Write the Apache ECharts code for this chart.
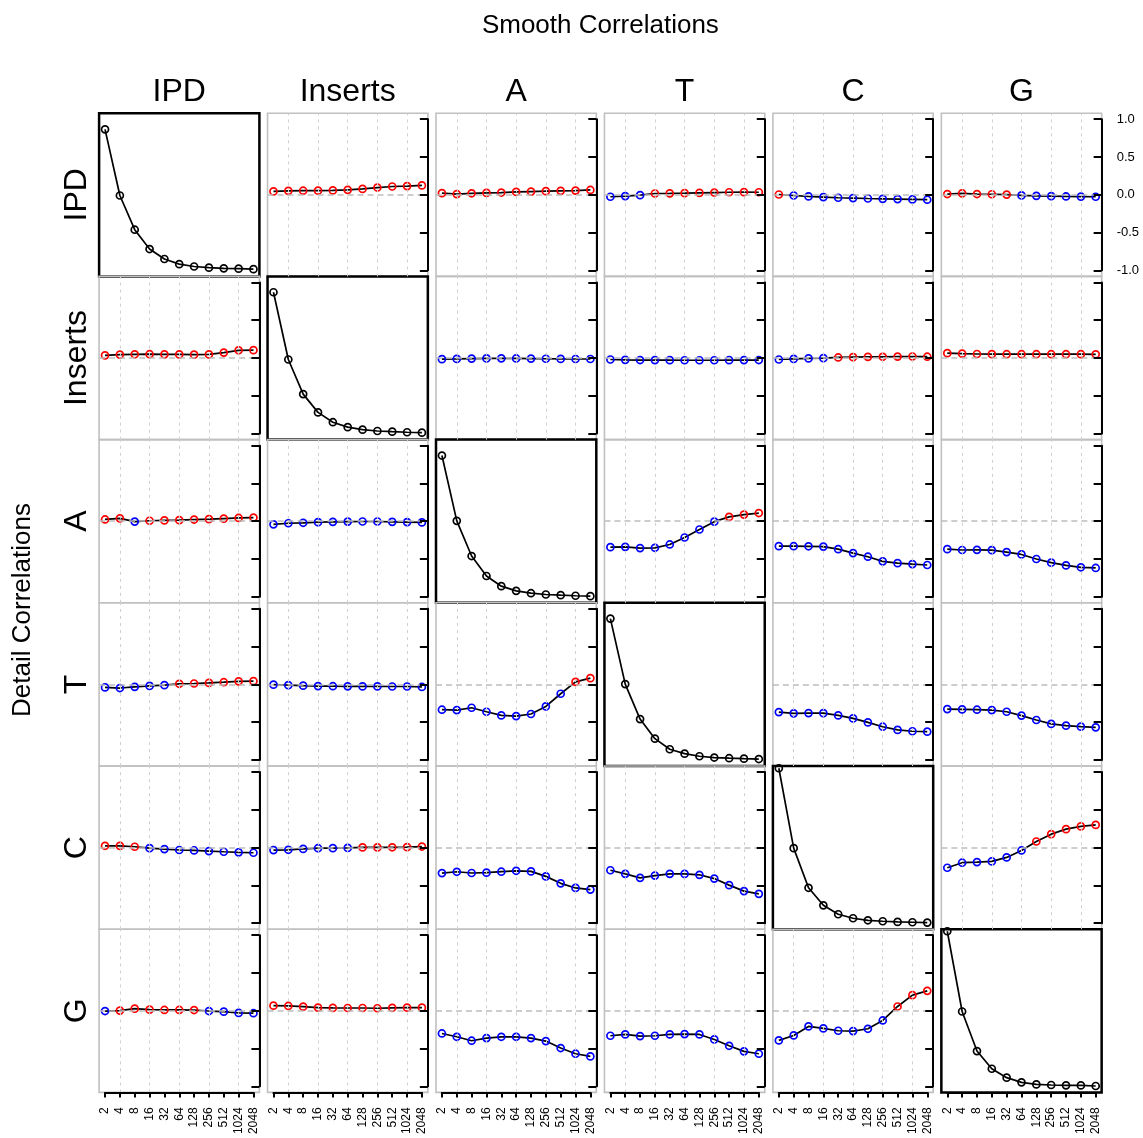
<!DOCTYPE html>
<html>
<head>
<meta charset="utf-8">
<script src="https://cdn.jsdelivr.net/npm/echarts@6/dist/echarts.min.js"></script>
<style>
html,body{margin:0;padding:0;background:#fff;}
#chart{width:1143px;height:1138px;}
</style>
</head>
<body>
<div id="chart"></div>
<script>
// ---------- data ----------
const variables = ['IPD', 'Inserts', 'A', 'T', 'C', 'G'];
const lags = [2, 4, 8, 16, 32, 64, 128, 256, 512, 1024, 2048];
const gridLags = [4, 16, 64, 256, 1024];
const yTicks = [-1, -0.5, 0, 0.5, 1];
const titleText = 'Smooth Correlations';
const yTitleText = 'Detail Correlations';

// row = detail variable, column = smooth variable
const IPD_IPD     = [0.866, -0.009, -0.462, -0.718, -0.850, -0.918, -0.949, -0.964, -0.973, -0.978, -0.984];
const IPD_Inserts = [0.045, 0.052, 0.054, 0.055, 0.058, 0.066, 0.078, 0.096, 0.110, 0.115, 0.124];
const IPD_A       = [0.022, 0.009, 0.020, 0.025, 0.030, 0.038, 0.043, 0.048, 0.052, 0.056, 0.064];
const IPD_T       = [-0.026, -0.017, -0.005, 0.017, 0.019, 0.022, 0.026, 0.030, 0.034, 0.035, 0.034];
const IPD_C       = [0.004, -0.009, -0.021, -0.030, -0.039, -0.044, -0.049, -0.053, -0.057, -0.061, -0.065];
const IPD_G       = [0.010, 0.018, 0.010, 0.007, 0.003, -0.008, -0.014, -0.018, -0.022, -0.024, -0.026];
const Inserts_IPD     = [0.035, 0.045, 0.049, 0.050, 0.048, 0.047, 0.044, 0.047, 0.072, 0.102, 0.104];
const Inserts_Inserts = [0.870, -0.020, -0.478, -0.720, -0.850, -0.915, -0.948, -0.966, -0.975, -0.983, -0.988];
const Inserts_A       = [-0.015, -0.012, -0.008, -0.005, -0.004, -0.006, -0.008, -0.010, -0.012, -0.013, -0.013];
const Inserts_T       = [-0.020, -0.024, -0.027, -0.028, -0.029, -0.030, -0.030, -0.030, -0.029, -0.028, -0.027];
const Inserts_C       = [-0.020, -0.012, -0.005, -0.002, 0.007, 0.011, 0.015, 0.016, 0.019, 0.020, 0.017];
const Inserts_G       = [0.064, 0.057, 0.053, 0.051, 0.050, 0.050, 0.050, 0.050, 0.050, 0.050, 0.049];
const A_IPD     = [0.023, 0.038, -0.005, 0.006, 0.010, 0.014, 0.022, 0.027, 0.035, 0.043, 0.048];
const A_Inserts = [-0.042, -0.027, -0.021, -0.013, -0.008, -0.005, -0.004, -0.004, -0.008, -0.012, -0.016];
const A_A       = [0.869, 0.005, -0.461, -0.725, -0.860, -0.922, -0.953, -0.970, -0.979, -0.987, -0.992];
const A_T       = [-0.344, -0.339, -0.356, -0.352, -0.308, -0.216, -0.110, -0.006, 0.057, 0.088, 0.108];
const A_C       = [-0.330, -0.331, -0.332, -0.336, -0.370, -0.422, -0.470, -0.531, -0.555, -0.568, -0.580];
const A_G       = [-0.370, -0.381, -0.379, -0.383, -0.409, -0.440, -0.500, -0.549, -0.585, -0.610, -0.619];
const T_IPD     = [-0.040, -0.048, -0.032, -0.020, -0.010, 0.008, 0.012, 0.020, 0.029, 0.041, 0.043];
const T_Inserts = [-0.003, -0.010, -0.017, -0.022, -0.024, -0.026, -0.027, -0.027, -0.028, -0.028, -0.034];
const T_A       = [-0.335, -0.340, -0.309, -0.362, -0.410, -0.419, -0.392, -0.291, -0.124, 0.034, 0.083];
const T_T       = [0.871, 0.004, -0.459, -0.718, -0.858, -0.917, -0.951, -0.968, -0.977, -0.983, -0.988];
const T_C       = [-0.366, -0.383, -0.380, -0.381, -0.410, -0.450, -0.503, -0.560, -0.602, -0.620, -0.626];
const T_G       = [-0.327, -0.331, -0.335, -0.340, -0.362, -0.413, -0.471, -0.523, -0.546, -0.559, -0.568];
const C_IPD     = [0.024, 0.023, 0.011, -0.007, -0.020, -0.032, -0.038, -0.046, -0.055, -0.063, -0.068];
const C_Inserts = [-0.033, -0.029, -0.017, -0.008, -0.007, -0.004, 0.002, 0.002, 0.004, 0.006, 0.014];
const C_A       = [-0.337, -0.320, -0.336, -0.332, -0.319, -0.307, -0.315, -0.381, -0.473, -0.534, -0.556];
const C_T       = [-0.300, -0.347, -0.400, -0.370, -0.347, -0.348, -0.360, -0.410, -0.497, -0.576, -0.612];
const C_C       = [1.050, -0.007, -0.532, -0.764, -0.882, -0.935, -0.962, -0.975, -0.984, -0.988, -0.992];
const C_G       = [-0.267, -0.200, -0.192, -0.183, -0.130, -0.038, 0.081, 0.178, 0.244, 0.280, 0.300];
const G_IPD     = [-0.003, 0.003, 0.028, 0.015, 0.011, 0.011, 0.010, -0.003, -0.011, -0.028, -0.032];
const G_Inserts = [0.068, 0.064, 0.055, 0.043, 0.038, 0.037, 0.037, 0.034, 0.040, 0.042, 0.042];
const G_A       = [-0.300, -0.344, -0.396, -0.361, -0.344, -0.344, -0.361, -0.401, -0.493, -0.568, -0.604];
const G_T       = [-0.330, -0.313, -0.335, -0.330, -0.313, -0.308, -0.313, -0.379, -0.463, -0.537, -0.568];
const G_C       = [-0.392, -0.326, -0.207, -0.233, -0.264, -0.269, -0.238, -0.128, 0.057, 0.207, 0.264];
const G_G       = [1.053, -0.009, -0.533, -0.767, -0.885, -0.947, -0.974, -0.982, -0.987, -0.988, -0.995];

const panels = [
  [IPD_IPD, IPD_Inserts, IPD_A, IPD_T, IPD_C, IPD_G],
  [Inserts_IPD, Inserts_Inserts, Inserts_A, Inserts_T, Inserts_C, Inserts_G],
  [A_IPD, A_Inserts, A_A, A_T, A_C, A_G],
  [T_IPD, T_Inserts, T_A, T_T, T_C, T_G],
  [C_IPD, C_Inserts, C_A, C_T, C_C, C_G],
  [G_IPD, G_Inserts, G_A, G_T, G_C, G_G]
];

// ---------- layout ----------
const FONT = '"Liberation Sans", Arial, Helvetica, sans-serif';
const X0 = 99.1, COL_STEP = 168.45, W = 160.3;
const Y0 = 113.2, ROW_STEP = 163.2, H = 163.2;
const PADX = W * 0.4 / 10.8;   // 4% extension of x range
const PADY = H * 0.08 / 2.16;  // 4% extension of y range
const log2 = v => Math.log(v) / Math.LN2;

const grids = [], xAxes = [], yAxes = [], series = [], graphics = [];
let gi = 0;
function addGrid(g, xa, ya) {
  grids.push(g);
  xa.gridIndex = gi; ya.gridIndex = gi;
  xAxes.push(xa); yAxes.push(ya);
  return gi++;
}

for (let r = 0; r < 6; r++) {
  for (let c = 0; c < 6; c++) {
    const diag = r === c;
    const L = X0 + COL_STEP * c, T = Y0 + ROW_STEP * r;
    // panel box + data coordinates
    const oi = addGrid(
      {left: L, top: T, width: W, height: H, show: true, z: 0,
       borderColor: diag ? '#000000' : '#c0c0c0', borderWidth: diag ? 2.5 : 1.6,
       backgroundColor: 'rgba(0,0,0,0)'},
      {type: 'value', min: 0.6, max: 11.4, show: false},
      {type: 'value', min: -1.08, max: 1.08, show: false});
    // right y axis over the tick range
    if (!diag) {
      addGrid({left: L, top: T + PADY, width: W, height: H - 2 * PADY, show: false},
        {type: 'value', min: 1, max: 2, show: false},
        {type: 'value', min: yTicks[0], max: yTicks[yTicks.length - 1], interval: 0.5, position: 'right', z: 5,
         axisLine: {show: true, onZero: false, lineStyle: {color: '#000000', width: 2}},
         axisTick: {show: true, inside: true, length: 8, lineStyle: {color: '#000000', width: 2}},
         axisLabel: {show: r === 0 && c === 5, margin: 15, align: 'left', fontSize: 13, color: '#000',
           fontFamily: FONT, formatter: v => v.toFixed(1)},
         splitLine: {show: false}});
    }
    const vals = panels[r][c];
    if (!diag) {
      series.push({type: 'line', xAxisIndex: oi, yAxisIndex: oi, data: [], z: 1, silent: true,
        animation: false, symbol: 'none',
        markLine: {silent: true, animation: false, symbol: ['none', 'none'], label: {show: false},
          lineStyle: {color: '#d0d0d0', width: 1, type: [3, 4]},
          data: gridLags.map(g => ({xAxis: log2(g)})).concat([
            {yAxis: 0, lineStyle: {color: '#bdbdbd', width: 1.5, type: [6, 4]}}])}});
    }
    series.push({type: 'line', xAxisIndex: oi, yAxisIndex: oi, z: 3, silent: true, animation: false,
      symbol: 'circle', symbolSize: 7, showAllSymbol: true,
      lineStyle: {color: '#000', width: 1.7},
      itemStyle: {color: 'rgba(0,0,0,0)', borderWidth: 1.7, borderColor: '#000'},
      data: vals.map((v, i) => ({
        value: [log2(lags[i]), v],
        itemStyle: {color: 'rgba(0,0,0,0)', borderWidth: 1.7,
          borderColor: diag ? '#000000' : (v >= 0 ? '#ff0000' : '#0000ff')}
      }))});
  }
}
// bottom x axes over the tick range, at the box bottom
for (let c = 0; c < 6; c++) {
  const L = X0 + COL_STEP * c, T = Y0 + ROW_STEP * 5;
  addGrid({left: L + PADX, top: T, width: W - 2 * PADX, height: H, show: false, z: 6},
    {type: 'value', min: 1, max: 11, interval: 1, position: 'bottom', z: 6,
     axisLine: {show: true, onZero: false, lineStyle: {color: '#000000', width: 2.2}},
     axisTick: {show: true, length: 5, lineStyle: {color: '#000000', width: 2}},
     axisLabel: {show: true, rotate: 90, margin: 15, fontSize: 12, color: '#000', fontFamily: FONT,
       formatter: v => String(lags[Math.round(v) - 1])},
     splitLine: {show: false}},
    {type: 'value', min: 1.5, max: 2, show: false});
}

// text
graphics.push({type: 'text', x: X0 + (COL_STEP * 5 + W) / 2, y: 26,
  style: {text: titleText, font: '26px ' + FONT, fill: '#000', align: 'center', verticalAlign: 'middle'}});
graphics.push({type: 'text', x: 23, y: 610, rotation: Math.PI / 2,
  style: {text: yTitleText, font: '26px ' + FONT, fill: '#000', align: 'center', verticalAlign: 'middle'}});
variables.forEach((name, i) => {
  graphics.push({type: 'text', x: X0 + COL_STEP * i + W / 2, y: 92,
    style: {text: name, font: '32px ' + FONT, fill: '#000', align: 'center', verticalAlign: 'middle'}});
  graphics.push({type: 'text', x: 77, y: Y0 + ROW_STEP * i + H / 2, rotation: Math.PI / 2,
    style: {text: name, font: '32px ' + FONT, fill: '#000', align: 'center', verticalAlign: 'middle'}});
});

const chart = echarts.init(document.getElementById('chart'), null, {renderer: 'canvas', width: 1143, height: 1138});
chart.setOption({
  animation: false, backgroundColor: '#ffffff',
  grid: grids, xAxis: xAxes, yAxis: yAxes, series: series, graphic: graphics
});
</script>
</body>
</html>
